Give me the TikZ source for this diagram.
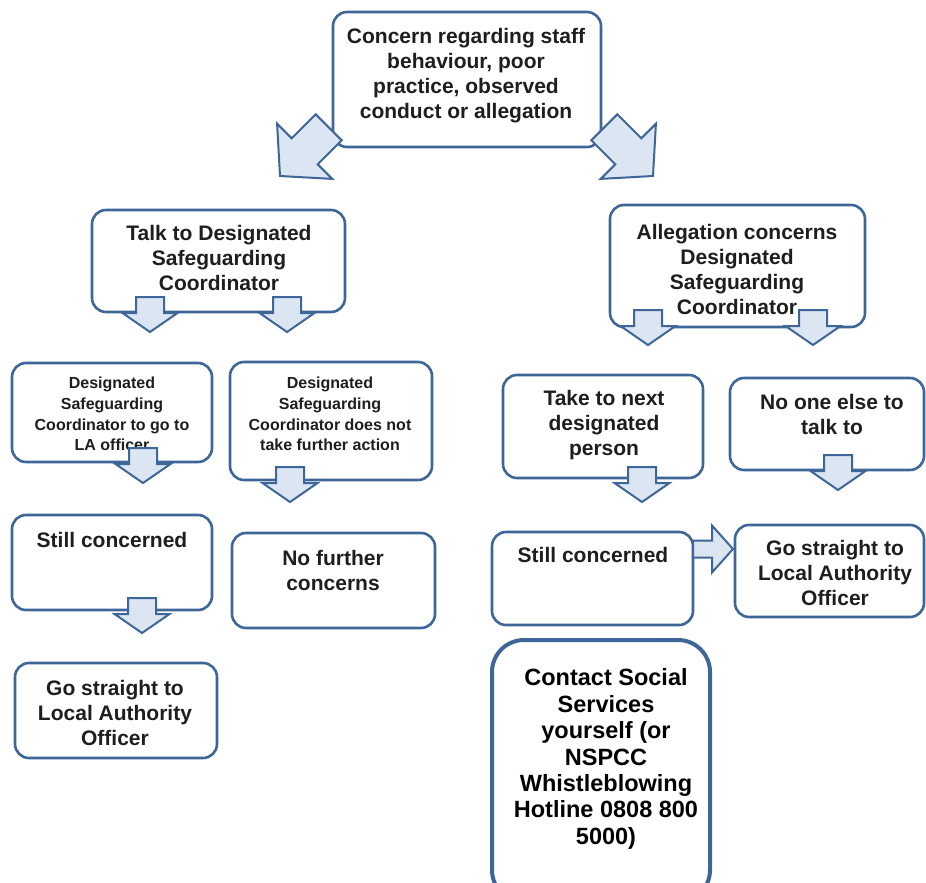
\documentclass[tikz,border=0pt]{standalone}
\usepackage{fontspec}
\setmainfont{Liberation Sans}
\definecolor{bc}{HTML}{3E6698}
\definecolor{af}{HTML}{DCE6F2}
\definecolor{tc}{HTML}{1E1E1E}
\tikzset{
  box/.style={draw=bc, line width=2.6pt, rounded corners=14pt, fill=white, inner sep=0pt},
  bigbox/.style={draw=bc, line width=4pt, rounded corners=32pt, fill=white, inner sep=0pt},
  txt/.style={align=center, text=tc, inner sep=0pt, font=\fontsize{21}{25}\selectfont\bfseries},
  smalltxt/.style={align=center, text=tc, inner sep=0pt, font=\fontsize{16}{20.7}\selectfont\bfseries},
  bigtxt/.style={align=center, text=black, inner sep=0pt, font=\fontsize{23.5}{26.4}\selectfont\bfseries},
  arrowsty/.style={draw=bc, fill=af, line width=2pt, line join=miter},
  darr/.pic={\draw[arrowsty] (0,0) -- (27.5,-19) -- (14,-19) -- (14,-35) -- (-14,-35) -- (-14,-19) -- (-27.5,-19) -- cycle;},
  rarr/.pic={\draw[arrowsty] (0,0) -- (-21,23.5) -- (-21,8.5) -- (-40,8.5) -- (-40,-8.5) -- (-21,-8.5) -- (-21,-23.5) -- cycle;}
}
\begin{document}
\begin{tikzpicture}[x=1pt, y=-1pt]
\useasboundingbox (0,0) rectangle (926,883);
\clip (0,0) rectangle (926,883);
\fill[white] (0,0) rectangle (926,883);

% boxes
\node[box, minimum width=268pt, minimum height=135pt] (top) at (467,79.5) {};
\node[box, minimum width=253pt, minimum height=102pt] (talk) at (218.5,261) {};
\node[box, minimum width=255pt, minimum height=122pt] (alleg) at (737.5,266) {};
\node[box, minimum width=200pt, minimum height=99pt] (dsc1) at (112,412.5) {};
\node[box, minimum width=202pt, minimum height=118pt] (dsc2) at (331,421) {};
\node[box, minimum width=200pt, minimum height=95pt] (still1) at (112,562.5) {};
\node[box, minimum width=203pt, minimum height=95pt] (nofurther) at (333.5,580.5) {};
\node[box, minimum width=202pt, minimum height=95pt] (go1) at (116,710.5) {};
\node[box, minimum width=200pt, minimum height=103pt] (take) at (603,426.5) {};
\node[box, minimum width=194pt, minimum height=92pt] (noone) at (827,424) {};
\node[box, minimum width=201pt, minimum height=93pt] (still2) at (592.5,578.5) {};
\node[box, minimum width=189pt, minimum height=92pt] (go2) at (829.5,571) {};
\node[bigbox, minimum width=218pt, minimum height=262pt] (contact) at (601,771) {};

% texts
\node[txt] (ttop) at (466,75.5) {Concern regarding staff\\behaviour, poor\\practice, observed\\conduct or allegation};
\node[txt] (ttalk) at (219,258) {Talk to Designated\\Safeguarding\\Coordinator};
\node[txt] (talleg) at (737,269.5) {Allegation concerns\\Designated\\Safeguarding\\Coordinator};
\node[smalltxt] (tdsc1) at (112,414) {Designated\\Safeguarding\\Coordinator to go to\\LA officer};
\node[smalltxt] (tdsc2) at (330,414) {Designated\\Safeguarding\\Coordinator does not\\take further action};
\node[txt] (tstill1) at (112,540) {Still concerned};
\node[txt] (tnofurther) at (333,570.5) {No further\\concerns};
\node[txt] (tgo1) at (115,713) {Go straight to\\Local Authority\\Officer};
\node[txt] (ttake) at (604,425) {Take to next\\designated\\person};
\node[txt] (tnoone) at (832,414.5) {No one else to\\talk to};
\node[txt] (tstill2) at (593,555) {Still concerned};
\node[txt] (tgo2) at (835,573) {Go straight to\\Local Authority\\Officer};
\node[bigtxt] (tcontact) at (606,759) {Contact Social\\Services\\yourself (or\\NSPCC\\Whistleblowing\\Hotline 0808 800\\5000)};

% big diagonal arrows from the top box
\draw[arrowsty] (280,176) -- (277.1,123.7) -- (291.7,138.3) -- (315.7,114.3) -- (341.7,140.3) -- (317.7,164.3) -- (332.3,178.9) -- cycle;
\draw[arrowsty] (653,176) -- (655.9,123.7) -- (641.3,138.3) -- (617.3,114.3) -- (591.3,140.3) -- (615.3,164.3) -- (600.7,178.9) -- cycle;

% small down arrows
\pic at (150,332) {darr};
\pic at (287,332) {darr};
\pic at (648,345) {darr};
\pic at (813,345) {darr};
\pic at (143,483) {darr};
\pic at (290,502) {darr};
\pic at (142,633) {darr};
\pic at (642,502) {darr};
\pic at (838,490) {darr};
% right arrow
\pic at (733,549) {rarr};
\end{tikzpicture}
\end{document}
